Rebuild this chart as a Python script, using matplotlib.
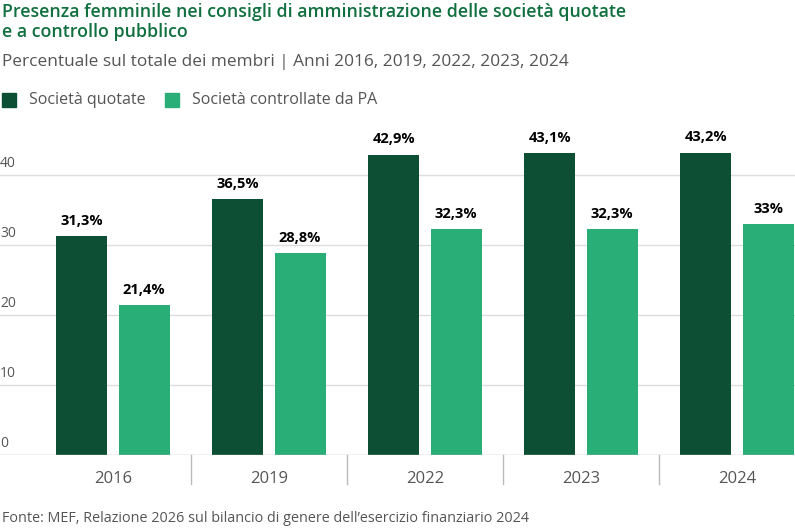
import matplotlib.pyplot as plt
import numpy as np

# dati
anni = ['2016', '2019', '2022', '2023', '2024']
quotate = [31.3, 36.5, 42.9, 43.1, 43.2]
controllate_pa = [21.4, 28.8, 32.3, 32.3, 33.0]
etichette_quotate = ['31,3%', '36,5%', '42,9%', '43,1%', '43,2%']
etichette_pa = ['21,4%', '28,8%', '32,3%', '32,3%', '33%']
y_ticks = [0, 10, 20, 30, 40]

plt.rcParams['font.family'] = ['Open Sans', 'DejaVu Sans']

col_scuro = '#0d4f35'
col_chiaro = '#2aae78'
col_titolo = '#11703f'
col_grigio = '#555555'

W, H = 795, 529
fig = plt.figure(figsize=(W / 100, H / 100), dpi=100)

# axes: pixel 0..795 in x, baseline at y=455, 40 at y=175
y_top_px, y_base_px = 120, 455
ax = fig.add_axes([0, 1 - y_base_px / H, 1, (y_base_px - y_top_px) / H])
px_per_unit = 70 / 10
ax.set_ylim(0, (y_base_px - y_top_px) / px_per_unit)
ax.set_xlim(-113 / 156, (795 - 113) / 156)

x = np.arange(len(anni))
w = 0.327
off = 0.199
b1 = ax.bar(x - off, quotate, w, color=col_scuro, zorder=3)
b2 = ax.bar(x + off, controllate_pa, w, color=col_chiaro, zorder=3)

for rect, lab in zip(b1, etichette_quotate):
    ax.annotate(lab, (rect.get_x() + rect.get_width() / 2, rect.get_height()),
                xytext=(0, 6), textcoords='offset points', ha='center', va='bottom',
                fontsize=10.5, fontweight='bold', color='black')
for rect, lab in zip(b2, etichette_pa):
    ax.annotate(lab, (rect.get_x() + rect.get_width() / 2, rect.get_height()),
                xytext=(0, 6), textcoords='offset points', ha='center', va='bottom',
                fontsize=10.5, fontweight='bold', color='black')

# griglia e tick
for t in y_ticks:
    if t > 0:
        ax.axhline(t, color='#dddddd', linewidth=1, zorder=1)
    ax.text(-113 / 156, t + 0.6, str(t), ha='left', va='bottom',
            fontsize=10, color=col_grigio)
ax.axhline(0, color='#bbbbbb', linewidth=1, zorder=4)

ax.set_xticks([])
ax.set_yticks([])
for s in ax.spines.values():
    s.set_visible(False)

# separatori e anni sotto l'asse
for i in range(len(anni) - 1):
    ax.plot([i + 0.5, i + 0.5], [0, -29 / px_per_unit], color='#bbbbbb',
            linewidth=1, clip_on=False)
for i, a in enumerate(anni):
    ax.text(i, -24 / px_per_unit, a, ha='center', va='center',
            fontsize=12, color=col_grigio)

# titoli
fig.text(0.002, 1 - 12 / H, 'Presenza femminile nei consigli di amministrazione delle società quotate',
         fontsize=12.8, fontweight='semibold', color=col_titolo, va='center')
fig.text(0.002, 1 - 32 / H, 'e a controllo pubblico',
         fontsize=12.8, fontweight='semibold', color=col_titolo, va='center')
fig.text(0.002, 1 - 62 / H, 'Percentuale sul totale dei membri | Anni 2016, 2019, 2022, 2023, 2024',
         fontsize=12.4, color=col_grigio, va='center')

# legenda
fig.patches.append(plt.Rectangle((2 / W, 1 - 107 / H), 14 / W, 14 / H,
                                 transform=fig.transFigure, color=col_scuro))
fig.text(29 / W, 1 - 100 / H, 'Società quotate', fontsize=11.5, color=col_grigio, va='center')
fig.patches.append(plt.Rectangle((165 / W, 1 - 107 / H), 14 / W, 14 / H,
                                 transform=fig.transFigure, color=col_chiaro))
fig.text(192 / W, 1 - 100 / H, 'Società controllate da PA', fontsize=11.5, color=col_grigio, va='center')

# fonte
fig.text(0.002, 1 - 518 / H,
         'Fonte: MEF, Relazione 2026 sul bilancio di genere dell\u2019esercizio finanziario 2024',
         fontsize=10.4, color=col_grigio, va='center')

fig.savefig('out.png', dpi=100)
